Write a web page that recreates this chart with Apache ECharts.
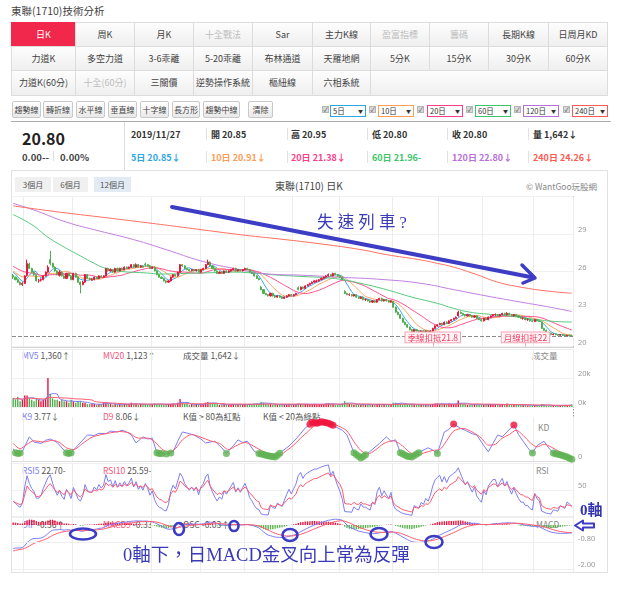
<!DOCTYPE html>
<html><head><meta charset="utf-8">
<script src="https://cdn.jsdelivr.net/npm/echarts@6/dist/echarts.min.js"></script>
<style>
body{margin:0;width:641px;height:599px;position:relative;overflow:hidden;background:#fff;font-family:"Noto Sans CJK TC","Noto Sans",sans-serif;color:#333;}
.a{position:absolute;white-space:nowrap;}
#chart{position:absolute;left:0;top:0;width:641px;height:599px;z-index:5;}
.cell{position:absolute;box-sizing:border-box;border:1px solid #dcdcdc;background:linear-gradient(#fdfdfd,#efefef);font-size:9px;color:#444;text-align:center;}
.cell.on{background:#f1284b;color:#fff;border-color:#f1284b;}
.cell.off{color:#bdbdbd;}
.btn{position:absolute;top:101px;height:17px;box-sizing:border-box;border:1px solid #c9c9c9;border-radius:2px;background:linear-gradient(#fff,#e9e9e9);font-size:8px;line-height:15px;text-align:center;color:#444;}
.cb{position:absolute;top:106px;width:7px;height:7px;box-sizing:border-box;background:#d8d8d8;border:1px solid #b5b5b5;font-size:6px;line-height:5px;color:#444;text-align:center;}
.sel{position:absolute;top:105px;width:36px;height:12px;box-sizing:border-box;border:1.5px solid;background:#fff;font-size:7.5px;line-height:9px;padding-left:2px;color:#333;}
.sel span{position:absolute;right:2px;top:0;font-size:5px;}
.inf{position:absolute;font-size:9px;font-weight:bold;white-space:nowrap;}
.sep{position:absolute;width:1px;background:#e2e2e2;}
.lbl{position:absolute;font-size:8.5px;line-height:10px;color:#555;white-space:nowrap;}
.hb{position:absolute;top:177px;height:15px;background:#f0f0f0;font-size:8px;line-height:15px;text-align:center;color:#555;}
</style></head>
<body>
<div class="a" style="left:11px;top:3px;font-size:10.5px;color:#444;">東聯(1710)技術分析</div>
<div id="menu"></div>
<div class="btn" style="left:12px;width:29px">趨勢線</div>
<div class="btn" style="left:43px;width:30px">轉折線</div>
<div class="btn" style="left:76px;width:29px">水平線</div>
<div class="btn" style="left:108px;width:29px">垂直線</div>
<div class="btn" style="left:140px;width:29px">十字線</div>
<div class="btn" style="left:172px;width:28px">長方形</div>
<div class="btn" style="left:203px;width:37px">趨勢中線</div>
<div class="btn" style="left:248px;width:25px">清除</div>
<div id="sels"></div>

<div class="a" style="left:11px;top:121px;width:600px;height:49px;border-top:1px solid #aaa;box-sizing:border-box;"></div>
<div class="a" style="left:124px;top:122px;width:1px;height:48px;background:#ddd;"></div>
<div class="a" style="left:22px;top:126px;font-size:16px;font-weight:bold;color:#222;">20.80</div>
<div class="a" style="left:22px;top:150px;font-size:9.5px;font-weight:bold;color:#444;">0.00--</div>
<div class="a" style="left:53px;top:151px;width:1px;height:10px;background:#ddd;"></div>
<div class="a" style="left:60px;top:150px;font-size:9.5px;font-weight:bold;color:#444;">0.00%</div>
<div id="info"></div>

<div class="a" style="left:11px;top:170px;width:597px;height:403px;border:1px solid #e2e2e2;box-sizing:border-box;"></div>
<div class="hb" style="left:15px;width:36px">3個月</div>
<div class="hb" style="left:53px;width:35px">6個月</div>
<div class="hb" style="left:94px;width:37px;background:#e2ebf4">12個月</div>
<div class="a" style="left:275px;top:178px;font-size:10px;color:#444;">東聯(1710) 日K</div>
<div class="a" style="left:526px;top:180px;font-size:8.5px;color:#888;">© WantGoo玩股網</div>

<div class="lbl" style="left:22px;top:350px"><span style="color:#7d7df5">MV5</span> 1,360↑</div>
<div class="lbl" style="left:103px;top:350px"><span style="color:#f5557a">MV20</span> 1,123↑</div>
<div class="lbl" style="left:183px;top:350px">成交量 1,642↓</div>
<div class="lbl" style="left:532px;top:350px;color:#888">成交量</div>
<div class="lbl" style="left:22px;top:411px"><span style="color:#7d7df5">K9</span> 3.77↓</div>
<div class="lbl" style="left:103px;top:411px"><span style="color:#f5557a">D9</span> 8.06↓</div>
<div class="lbl" style="left:183px;top:411px">K值 &gt; 80為紅點</div>
<div class="lbl" style="left:263px;top:411px">K值 &lt; 20為綠點</div>
<div class="lbl" style="left:538px;top:422px;color:#888">KD</div>
<div class="lbl" style="left:22px;top:465px"><span style="color:#7d7df5">RSI5</span> 22.70-</div>
<div class="lbl" style="left:103px;top:465px"><span style="color:#f5557a">RSI10</span> 25.59-</div>
<div class="lbl" style="left:536px;top:465px;color:#888">RSI</div>
<div class="lbl" style="left:22px;top:519px"><span style="color:#7d7df5">DIF</span> -0.36↑</div>
<div class="lbl" style="left:103px;top:519px"><span style="color:#f5557a">MACD9</span> -0.33</div>
<div class="lbl" style="left:183px;top:519px">OSC -0.03↑</div>
<div class="lbl" style="left:536px;top:519px;color:#888">MACD</div>

<div id="chart"></div>
<script>
// ---------- menu / header content ----------
const menuRow1 = ['日K','周K','月K','十全戰法','Sar','主力K線','盈富指標','籌碼','長期K線','日周月KD'];
const menuRow2 = ['力道K','多空力道','3-6乖離','5-20乖離','布林通道','天羅地網','5分K','15分K','30分K','60分K'];
const menuRow3 = ['力道K(60分)','十全(60分)','三關價','逆勢操作系統','樞紐線','六相系統'];
const menuOff = ['十全戰法','盈富指標','籌碼','十全(60分)'];
const maSelects = ['5日','10日','20日','60日','120日','240日'];
const maColors = ['#2ea7e0','#ff9c55','#ff3d8b','#3cc56b','#b86fd9','#ff5a52'];
const infoRow1 = ['2019/11/27','開 20.85','高 20.95','低 20.80','收 20.80','量 1,642↓'];
const infoRow2 = ['5日 20.85↓','10日 20.91↓','20日 21.38↓','60日 21.96-','120日 22.80↓','240日 24.26↓'];

(function(){
  const colX=[11,75,134,193,252,312,370,429,488,548,607];
  const rowY=[22,46,70,95];
  let h='';
  [menuRow1,menuRow2,menuRow3].forEach((row,r)=>{
    row.forEach((t,c)=>{
      const cls='cell'+(r===0&&c===0?' on':'')+(menuOff.includes(t)?' off':'');
      h+=`<div class="${cls}" style="left:${colX[c]}px;top:${rowY[r]}px;width:${colX[c+1]-colX[c]+1}px;height:${rowY[r+1]-rowY[r]+1}px;line-height:${rowY[r+1]-rowY[r]-1}px">${t}</div>`;
    });
  });
  h+=`<div class="cell" style="left:370px;top:70px;width:238px;height:26px"></div>`;
  document.getElementById('menu').innerHTML=h;
  const cbX=[322,369,417,466,514,563], slX=[330,378,427,475,523,572];
  let s='';
  maSelects.forEach((t,i)=>{
    s+=`<div class="cb" style="left:${cbX[i]}px">✓</div><div class="sel" style="left:${slX[i]}px;border-color:${maColors[i]}">${t}<span>▼</span></div>`;
  });
  document.getElementById('sels').innerHTML=s;
  const ix=[131,211,291,372,452,533], sx=[206,287,367,447,528];
  let f='';
  infoRow1.forEach((t,i)=>{f+=`<div class="inf" style="left:${ix[i]}px;top:128px;color:#333">${t}</div>`;});
  infoRow2.forEach((t,i)=>{f+=`<div class="inf" style="left:${ix[i]}px;top:151px;color:${maColors[i]}">${t}</div>`;});
  sx.forEach(x=>{f+=`<div class="sep" style="left:${x}px;top:128px;height:12px"></div><div class="sep" style="left:${x}px;top:151px;height:12px"></div>`;});
  document.getElementById('info').innerHTML=f;
})();

// ---------- data ----------
// closes before the visible window (only used to warm up the indicators)
const history = [32.2,32.0,31.9,31.6,31.4,30.9,30.4,29.8,29.2,28.4,27.8,27.4,27.2,26.9,26.6,27.0,27.3,26.9,26.4,26.0,26.2,26.6,26.4,26.1,25.9,25.6,26.0,26.3,26.0,25.8];
// daily [open, close, low, high]
const ohlc = [
[25.7,25.55,25.4,25.8],[25.55,25.35,25.3,25.6],[25.35,25.15,25.1,25.45],[25.15,24.95,24.9,25.2],[24.95,25.05,24.85,25.15],
[25.05,25.65,25.0,25.7],[25.7,26.65,25.6,26.95],[26.6,26.25,26.2,26.7],[26.25,25.95,25.9,26.3],[25.95,25.75,25.65,26.0],
[25.75,25.25,25.2,25.8],[25.25,25.25,25.1,25.4],[25.3,25.35,25.2,25.45],[25.35,25.65,25.3,25.7],[25.65,25.95,25.6,26.0],
[25.95,26.35,25.9,26.5],[26.95,26.65,26.5,27.65],[26.65,26.35,26.3,26.7],[26.35,26.05,26.0,26.4],[26.05,25.75,25.7,26.1],
[25.7,25.95,25.6,26.1],[25.95,25.65,25.6,26.0],[25.65,25.45,25.4,25.7],[25.45,25.85,25.4,25.9],[25.85,25.65,25.6,25.9],
[25.65,25.35,25.3,25.7],[25.35,25.85,25.3,25.9],[25.85,25.55,25.5,25.9],[25.55,25.15,25.1,25.6],[25.15,24.95,24.25,25.2],
[24.95,25.15,24.9,25.25],[25.15,25.75,25.1,25.8],[25.75,25.45,25.4,25.8],[25.45,25.35,25.3,25.5],[25.3,25.35,25.25,25.45],
[25.35,25.55,25.3,25.6],[25.55,25.45,25.4,25.6],[25.45,25.65,25.4,25.7],[25.65,25.55,25.5,25.7],[25.55,25.65,25.5,25.7],
[25.65,26.25,25.6,26.3],[26.25,26.05,26.0,26.3],[26.05,26.15,26.0,26.25],[26.15,25.95,25.9,26.2],[25.95,26.25,25.9,26.3],
[26.25,26.05,26.0,26.3],[26.05,26.25,26.0,26.3],[26.25,26.15,26.1,26.3],[26.15,26.35,26.1,26.4],[26.35,26.25,26.2,26.4],
[26.25,26.35,26.2,26.4],[26.35,26.55,26.3,26.6],[26.55,26.35,26.3,26.6],[26.35,26.55,26.3,26.65],[26.55,26.35,26.3,26.6],
[26.35,26.45,26.3,26.5],[26.45,26.35,26.3,26.5],[26.6,26.55,26.4,26.7],[26.55,26.45,26.4,26.6],[26.45,26.25,26.2,26.5],
[26.25,26.35,26.2,26.4],[26.35,26.05,26.0,26.4],[26.05,25.75,25.7,26.1],[25.75,25.55,25.5,25.8],[25.55,25.45,25.4,25.6],
[25.45,25.25,25.2,25.5],[25.25,25.15,25.05,25.3],[25.15,25.25,25.1,25.3],[25.25,25.55,25.2,25.6],[25.55,25.75,25.5,25.8],
[25.75,25.65,25.6,25.8],[25.65,25.95,25.6,26.0],[25.95,26.55,25.9,26.6],[26.55,26.45,26.4,26.6],[26.45,26.25,26.2,26.5],
[26.25,26.15,26.1,26.3],[26.15,26.05,26.0,26.2],[26.05,26.15,26.0,26.2],[26.15,26.05,26.0,26.2],[26.05,26.15,26.0,26.2],
[26.15,25.95,25.9,26.2],[25.95,26.15,25.9,26.2],[26.15,26.25,26.1,26.3],[26.25,26.55,26.2,26.6],[26.55,26.75,26.5,26.95],
[26.75,26.45,26.4,26.8],[26.45,26.25,26.2,26.5],[26.25,26.05,26.0,26.3],[26.05,25.85,25.8,26.1],[25.85,25.95,25.8,26.0],
[25.95,25.85,25.8,26.0],[25.85,26.05,25.8,26.1],[26.05,25.95,25.9,26.1],[25.95,26.05,25.9,26.1],[26.05,26.15,26.0,26.2],
[26.15,26.25,26.1,26.3],[26.25,26.05,26.0,26.3],[26.05,26.15,26.0,26.2],[26.15,26.05,26.0,26.2],[26.05,26.15,26.0,26.2],
[26.15,26.25,26.1,26.3],[26.25,26.15,26.1,26.3],[26.15,25.95,25.9,26.2],[25.95,25.85,25.8,26.0],[25.85,25.65,25.6,25.9],
[25.65,25.45,25.4,25.7],[25.45,25.35,25.3,25.5],[24.75,24.55,24.5,24.85],[24.55,24.25,24.2,24.6],[24.25,24.15,24.1,24.3],
[24.15,24.05,24.0,24.2],[24.05,24.25,24.0,24.3],[24.25,24.05,24.0,24.3],[24.05,23.95,23.9,24.1],[23.95,24.05,23.9,24.1],
[24.05,23.95,23.9,24.1],[23.95,23.85,23.8,24.0],[23.85,23.95,23.8,24.0],[23.95,24.05,23.9,24.1],[24.05,24.15,24.0,24.2],
[24.15,24.05,24.0,24.2],[24.05,24.15,24.0,24.2],[24.15,24.25,24.1,24.3],[24.7,24.55,24.5,24.8],[24.55,24.75,24.5,24.8],
[24.75,24.65,24.6,24.8],[24.65,24.85,24.6,24.9],[24.85,24.95,24.8,25.0],[24.95,25.05,24.9,25.1],[25.05,25.15,25.0,25.2],
[25.15,25.25,25.1,25.3],[25.25,25.25,25.15,25.35],[25.25,25.35,25.2,25.4],[25.35,25.45,25.3,25.5],[25.45,25.55,25.4,25.6],
[25.55,25.65,25.5,25.7],[25.65,25.75,25.6,25.85],[25.75,25.65,25.6,25.8],[25.65,25.85,25.6,25.9],[25.85,25.75,25.7,25.9],
[25.75,25.65,25.6,25.8],[25.65,25.55,25.5,25.7],[25.55,25.35,25.3,25.6],[24.4,24.25,24.2,24.5],[24.25,24.15,24.1,24.3],
[24.15,24.15,24.05,24.25],[24.15,24.05,24.0,24.2],[24.05,24.15,24.0,24.2],[24.15,23.95,23.9,24.2],[23.95,23.85,23.8,24.0],
[23.85,23.95,23.8,24.0],[23.95,23.75,23.7,24.0],[23.75,23.75,23.65,23.85],[23.75,23.65,23.6,23.8],[23.65,23.55,23.5,23.7],
[23.55,23.65,23.5,23.7],[23.65,23.55,23.5,23.7],[23.55,23.75,23.5,23.8],[23.75,23.85,23.7,23.9],[23.85,23.65,23.6,23.9],
[23.65,23.75,23.6,23.8],[23.75,23.65,23.6,23.8],[23.65,23.55,23.5,23.7],[23.55,23.65,23.5,23.7],[23.6,23.15,23.1,23.65],
[23.15,22.75,22.7,23.2],[22.75,22.55,22.5,22.8],[22.55,22.25,22.2,22.6],[22.25,21.95,21.9,22.3],[21.95,21.75,21.7,22.0],
[21.75,21.55,21.5,21.8],[21.55,21.35,21.3,21.6],[21.35,21.15,21.1,21.4],[21.15,21.35,21.1,21.4],[21.35,21.25,21.2,21.4],
[21.25,21.15,21.1,21.3],[21.15,21.25,21.1,21.3],[21.25,21.15,21.1,21.3],[21.15,21.25,21.1,21.3],[21.25,21.15,21.1,21.3],
[21.15,21.25,21.1,21.3],[21.25,21.45,21.2,21.5],[21.45,21.65,21.4,21.7],[21.65,21.75,21.6,21.8],[21.75,21.85,21.7,21.9],
[21.85,21.75,21.7,21.9],[21.75,21.95,21.7,22.0],[21.95,21.85,21.8,22.0],[21.85,22.05,21.8,22.1],[22.05,22.15,22.0,22.2],
[22.15,22.25,22.1,22.3],[22.25,22.35,22.2,22.4],[22.45,22.75,22.4,22.85],[22.75,22.65,22.6,22.8],[22.65,22.55,22.5,22.7],
[22.55,22.45,22.4,22.6],[22.45,22.55,22.4,22.6],[22.55,22.45,22.4,22.6],[22.45,22.35,22.3,22.5],[22.35,22.45,22.3,22.5],
[22.45,22.25,22.2,22.5],[22.25,22.15,22.1,22.3],[22.15,22.05,22.0,22.2],[22.05,22.25,22.0,22.3],[22.25,22.15,22.1,22.3],
[22.15,22.35,22.1,22.4],[22.35,22.45,22.3,22.5],[22.45,22.55,22.4,22.6],[22.55,22.55,22.45,22.65],[22.55,22.45,22.4,22.6],
[22.45,22.55,22.4,22.6],[22.55,22.65,22.5,22.7],[22.65,22.55,22.5,22.7],[22.55,22.65,22.5,22.75],[22.65,22.55,22.5,22.7],
[22.55,22.45,22.4,22.6],[22.45,22.55,22.4,22.6],[22.55,22.45,22.4,22.6],[22.45,22.35,22.3,22.5],[22.35,22.25,22.2,22.4],
[22.25,22.25,22.15,22.35],[22.25,22.15,22.1,22.3],[22.15,22.15,22.05,22.25],[22.15,22.05,22.0,22.2],[22.05,22.0,21.95,22.1],
[22.0,22.15,21.95,22.2],[22.15,22.05,22.0,22.2],[22.05,22.0,21.95,22.1],[21.95,21.45,21.4,22.0],[21.45,21.3,21.25,21.5],
[21.3,21.1,21.05,21.35],[21.1,21.05,21.0,21.15],[21.05,20.95,20.9,21.1],[20.95,21.0,20.9,21.05],[21.0,20.95,20.9,21.05],
[20.95,20.9,20.85,21.0],[20.9,20.95,20.85,21.0],[20.95,20.9,20.85,21.0],[20.9,20.85,20.8,20.95],[20.85,20.9,20.8,20.95],
[20.9,20.85,20.8,20.95],[20.85,20.8,20.8,20.95]
];
// daily volume, thousand lots
const volume = [
6,5,7,4,5,8,8,6,5,4, 6,5,4,5,6,20,9,6,5,5, 4,5,4,4,3,5,4,3,4,4, 3,3,2,2,2,2,1.5,2,2,3,
3,2,2,1.5,2,2,2,1.5,2,2, 2,3,2,2,1.5,2,2,2,1.5,2, 2,2.5,2,2,2,1.5,2,2,2,2.5, 2,3,5.5,3,2,2,1.5,2,1.5,2,
1.5,2,2,3,3.5,3,2.5,2,2,1.5, 1.5,2,1.5,1.5,2,2,1.5,1.5,2,1.5, 2,1.5,2,2,2.5,2.5,2,3.5,3,2.5, 2,2,1.5,2,1.5,1.5,2,1.5,1.5,2,
1.5,1.5,2,2.5,2,1.5,2,2,2,2, 2,1.5,2,2,2,2.5,2.5,2,2,1.5, 1.5,2,2.5,4,3,2,2,1.5,2,2, 1.5,2,1.5,1.5,2,1.5,1.5,2,2,1.5,
1.5,1.5,1.5,2,3,3,2.5,2.5,2,2, 2,2,2,1.5,1.5,1.5,1.5,1.5,1.5,1.5, 1.5,2,2.5,2.5,2,2,2,2,2.5,2, 2,2,4.5,2.5,2,2,1.5,1.5,1.5,2,
1.5,1.5,1.5,1.5,1.5,2,2,1.5,1.5,1.5, 1.5,2,1.5,2.5,1.5,1.5,1.5,1.5,1.5,1.5, 1.5,1.5,1.0,1.0,1.0,1.0,1.0,1.0,2.0,1.5,
0.9,0.9,0.9,0.9,0.9,0.9,0.9,1.2,1.5,1.2, 1.2,1.642
];
// long moving averages: [day index, value]
const ma60Pts = [[0,30.55],[8,29.75],[15,28.75],[22,27.95],[28,27.35],[35,26.65],[40,26.25],[47,26.0],[56,25.9],[65,25.8],[75,25.85],[85,25.9],[95,25.95],[105,25.85],[115,25.7],[125,25.6],[135,25.5],[142,25.35],[150,25.05],[161,24.55],[172,23.95],[183,23.45],[190,23.05],[197,22.75],[204,22.6],[211,22.5],[218,22.35],[226,22.15],[234,22.0],[241,21.96]];
const ma120Pts = [[0,31.45],[10,30.85],[23,29.95],[37,29.25],[52,28.55],[66,27.75],[81,26.85],[95,26.25],[110,25.8],[125,25.7],[140,25.55],[160,25.35],[176,25.05],[190,24.55],[204,24.05],[219,23.55],[230,23.2],[241,22.8]];
const ma240Pts = [[0,31.25],[20,30.75],[38,30.35],[60,29.85],[81,29.35],[100,28.9],[115,28.6],[133,28.2],[150,27.75],[161,27.35],[175,26.95],[183,26.65],[190,26.35],[200,25.75],[209,25.15],[219,24.75],[230,24.45],[241,24.26]];
// KD(9): [day index, value]
const kPts = [[0,28],[1,19],[2,17],[3,18],[4,22],[7,55],[9,43],[12,40],[14,47],[16,50],[19,42],[22,24],[23,19],[24,17],[25,19],[28,36],[32,59],[35,58],[37,63],[40,62],[42,68],[45,66],[47,70],[49,66],[51,59],[53,41],[56,55],[58,50],[60,52],[62,19],[63,17],[64,17],[66,16],[68,18],[69,21],[71,45],[73,66],[76,62],[78,59],[81,50],[83,41],[87,45],[90,30],[92,17],[95,35],[97,48],[99,42],[101,45],[104,22],[106,17],[110,12],[113,9],[116,22],[119,34],[122,50],[126,75],[129,88],[131,86],[133,89],[136,86],[138,81],[140,75],[142,70],[144,59],[147,19],[150,7],[152,14],[154,22],[158,40],[161,55],[163,45],[165,48],[167,19],[170,11],[172,9],[174,16],[176,22],[179,30],[181,25],[183,17],[186,66],[188,72],[190,84],[193,74],[195,70],[198,62],[200,59],[203,35],[205,21],[207,40],[209,59],[211,55],[213,66],[216,82],[218,60],[220,45],[222,30],[224,18],[226,35],[229,45],[231,30],[233,18],[236,14],[239,9],[241,3.77]];
const dPts = [[0,40],[3,28],[6,38],[9,46],[13,43],[17,47],[20,42],[23,30],[26,26],[30,40],[34,54],[38,60],[42,64],[46,67],[50,64],[54,52],[58,52],[61,44],[64,28],[67,20],[70,28],[73,48],[77,60],[81,54],[85,46],[89,40],[93,26],[96,34],[100,42],[103,36],[107,24],[111,15],[115,14],[118,24],[121,36],[124,52],[127,66],[130,80],[134,86],[138,84],[141,78],[144,68],[147,44],[150,24],[153,16],[156,24],[160,40],[164,46],[168,34],[171,20],[174,14],[177,18],[181,24],[184,26],[187,46],[190,68],[194,74],[198,66],[202,52],[205,36],[208,38],[211,52],[214,60],[217,70],[220,58],[223,42],[226,32],[229,38],[232,32],[236,20],[241,8.06]];
const kHighDots = [[128,83.7],[129,88],[130,87],[131,86],[132,87.5],[133,89],[134,88],[135,87],[136,86],[137,83.5],[138,81],[190,84],[216,82]];
const kLowDots = [[1,19],[2,17],[3,18],[23,19],[24,17],[25,19],[62,19],[63,17],[64,17],[66,16],[68,18],[92,17],[106,17],[107,15.8],[108,14.5],[109,13.3],[110,12],[111,11],[112,10],[113,9],[114,13.3],[115,17.7],[147,19],[148,15],[149,11],[150,7],[151,10.5],[152,14],[167,19],[168,16.3],[169,13.7],[170,11],[171,10],[172,9],[173,12.5],[174,16],[175,19],[183,17],[224,18],[233,18],[234,16.7],[235,15.3],[236,14],[237,12.3],[238,10.7],[239,9],[240,6.4],[241,3.77]];
const monthStarts = [5,26,60,81,100,121,141,164,184,203,225];
const priceTicks = {min:20, max:32, step:3};
const lastClose = 20.8;
const deductions = [{day:181, text:'季線扣抵21.8'}, {day:221, text:'月線扣抵22'}];
const days = ohlc.map((d,i)=>String(i));

// ---------- derived indicators ----------
const H0 = history.length;
const cAll = history.concat(ohlc.map(d=>d[1]));
function ma(n){return ohlc.map((_,i)=>{const t=H0+i;let s=0;for(let k=t-n+1;k<=t;k++)s+=cAll[k];return +(s/n).toFixed(3);});}
function vma(n){return volume.map((_,i)=>{const a=Math.max(0,i-n+1);let s=0;for(let k=a;k<=i;k++)s+=volume[k];return +(s/(i-a+1)).toFixed(3);});}
function rsi(n){let up=0,dn=0;const out=[];for(let t=1;t<cAll.length;t++){const ch=cAll[t]-cAll[t-1];up=(up*(n-1)+Math.max(ch,0))/n;dn=(dn*(n-1)+Math.max(-ch,0))/n;if(t>=H0)out.push(+(up+dn>0?100*up/(up+dn):50).toFixed(2));}return out;}
const difArr=[],deaArr=[],oscArr=[];
(function(){let e12=cAll[0],e26=cAll[0],dea=0;for(let t=0;t<cAll.length;t++){e12=e12*11/13+cAll[t]*2/13;e26=e26*25/27+cAll[t]*2/27;const dif=e12-e26;dea=dea*0.8+dif*0.2;if(t>=H0){difArr.push(+dif.toFixed(3));deaArr.push(+dea.toFixed(3));oscArr.push(+(dif-dea).toFixed(3));}}})();

const UP='#e8153c', DOWN='#4fae4f', BLUE='#7d7df5', RED='#ff5a6e';
const grids=[{top:196.5,height:150},{top:349,height:58},{top:417,height:44},{top:463,height:54},{top:516.2,height:57.2}];
const lbl={color:'#999',fontSize:7.5,margin:5,verticalAlign:'bottom',fontFamily:'Noto Sans'};
function yA(i,o){return Object.assign({type:'value',gridIndex:i,position:'right',scale:false,axisLine:{show:false},axisTick:{show:false},splitLine:{show:true,lineStyle:{color:'#f0f0f0'}}},o);}
function line(name,data,color,xi,extra){return Object.assign({name,type:'line',data,xAxisIndex:xi,yAxisIndex:xi,showSymbol:false,symbol:'none',lineStyle:{width:1,color},itemStyle:{color},silent:true,z:3},extra||{});}

const ann='#3c3cc4';
const handFont='"Liberation Serif","Noto Sans CJK TC"';
const option={
  animation:false,
  textStyle:{fontFamily:'"Noto Sans CJK TC","Noto Sans",sans-serif'},
  grid:grids.map(g=>({left:12,width:561,top:g.top,height:g.height})),
  xAxis:grids.map((g,i)=>({type:'category',gridIndex:i,data:days,boundaryGap:true,axisLine:{show:false},axisTick:{show:false},axisLabel:{show:false},splitLine:{show:true,interval:(idx)=>monthStarts.includes(idx),lineStyle:{color:'#ececec'}}})),
  yAxis:[
    yA(0,{min:priceTicks.min,max:priceTicks.max,interval:priceTicks.step,axisLabel:Object.assign({showMaxLabel:false},lbl)}),
    yA(1,{min:0,max:40,interval:20,axisLabel:Object.assign({showMaxLabel:false,formatter:v=>v+'k'},lbl)}),
    yA(2,{min:0,max:100,interval:100,splitLine:{show:false},axisLabel:Object.assign({showMaxLabel:false},lbl)}),
    yA(3,{min:0,max:100,interval:50,axisLabel:Object.assign({showMaxLabel:false,showMinLabel:false},lbl)}),
    yA(4,{min:-2.2,max:0.4,interval:0.2,splitLine:{show:false},axisLabel:Object.assign({formatter:v=>Math.abs(v+0.8)<1e-3?'-0.80':(Math.abs(v+2)<1e-3?'-2.00':'')},lbl)})
  ],
  series:[
    {type:'candlestick',data:ohlc,xAxisIndex:0,yAxisIndex:0,barWidth:1.6,silent:true,z:4,
     itemStyle:{color:UP,color0:DOWN,borderColor:UP,borderColor0:DOWN,borderWidth:1},
     markLine:{symbol:['none','none'],silent:true,animation:false,data:[
       {yAxis:lastClose,lineStyle:{type:'dashed',color:'#8a8a8a',width:1},label:{show:false}},
       ...deductions.map(d=>[{coord:[d.day,20],lineStyle:{type:'solid',color:'#f5a3b3',width:1},
          label:{show:true,position:'end',distance:0,formatter:d.text,color:'#ef3d62',fontSize:8.5,backgroundColor:'#fff4f6',borderColor:'#f5a3b3',borderWidth:1,padding:[1,2,0,2]}},{coord:[d.day,20.35]}])
     ]}},
    line('MA5',ma(5),'#38a6e6',0),
    line('MA10',ma(10),'#ffa363',0),
    line('MA20',ma(20),'#ff4d8d',0),
    line('MA60',ma60Pts,'#52c97a',0,{smooth:true}),
    line('MA120',ma120Pts,'#c27fe0',0,{smooth:true}),
    line('MA240',ma240Pts,'#ff6e60',0,{smooth:true}),
    {type:'bar',xAxisIndex:1,yAxisIndex:1,barWidth:1.4,silent:true,
     data:volume.map((v,i)=>({value:v,itemStyle:{color:ohlc[i][1]>=ohlc[i][0]?UP:DOWN}}))},
    line('MV5',vma(5),BLUE,1),
    line('MV20',vma(20),RED,1),
    line('K',kPts,BLUE,2),
    line('D',dPts,RED,2,{smooth:0.3}),
    {type:'scatter',xAxisIndex:2,yAxisIndex:2,symbolSize:7,silent:true,z:5,itemStyle:{color:'#f0143c'},data:kHighDots},
    {type:'scatter',xAxisIndex:2,yAxisIndex:2,symbolSize:7,silent:true,z:5,itemStyle:{color:'#5fb352'},data:kLowDots},
    line('RSI5',rsi(5),BLUE,3),
    line('RSI10',rsi(10),RED,3),
    {type:'bar',xAxisIndex:4,yAxisIndex:4,barWidth:1.4,silent:true,
     data:oscArr.map(v=>({value:v,itemStyle:{color:v>=0?'#f0163f':'#5fb352'}}))},
    line('DIF',difArr,BLUE,4,{markLine:{symbol:['none','none'],silent:true,label:{show:false},lineStyle:{color:'#eeeeee',type:'solid',width:1},data:[{yAxis:-0.8},{yAxis:-2.0}]}}),
    line('MACD9',deaArr,RED,4)
  ],
  graphic:[
    {type:'line',shape:{x1:12,y1:196.5,x2:573,y2:196.5},style:{stroke:'#e6e6e6',lineWidth:1},silent:true},
    {type:'line',shape:{x1:12,y1:347.5,x2:573,y2:347.5},style:{stroke:'#d4d4d4',lineWidth:1},silent:true},
    {type:'line',shape:{x1:12,y1:407.5,x2:573,y2:407.5},style:{stroke:'#d4d4d4',lineWidth:1},silent:true},
    {type:'line',shape:{x1:12,y1:461.5,x2:573,y2:461.5},style:{stroke:'#dddddd',lineWidth:1},silent:true},
    {type:'line',shape:{x1:12,y1:517,x2:573,y2:517},style:{stroke:'#dddddd',lineWidth:1},silent:true},
    {type:'line',shape:{x1:573.5,y1:196,x2:573.5,y2:572},style:{stroke:'#9a9a9a',lineWidth:1,lineDash:[1.5,1.5]},silent:true},
    // annotations
    {type:'polyline',z:100,shape:{points:[[172,207],[533,277.5]]},style:{stroke:ann,lineWidth:4,fill:null,lineCap:'round'},silent:true},
    {type:'polyline',z:100,shape:{points:[[522,265],[535,278],[523,283]]},style:{stroke:ann,lineWidth:3.5,fill:null,lineCap:'round',lineJoin:'round'},silent:true},
    {type:'text',z:100,style:{text:'失 速 列 車 ?',x:317,y:224,fontSize:16.5,fontFamily:handFont,fill:'#3a3ab8',verticalAlign:'middle'},silent:true},
    {type:'text',z:100,style:{text:'0軸下，日MACD金叉向上常為反彈',x:123,y:556,fontSize:18.5,fontFamily:handFont,fill:'#3a3ab8',verticalAlign:'middle'},silent:true},
    {type:'text',z:100,style:{text:'0軸',x:580,y:511,fontSize:15,fontFamily:handFont,fontWeight:'bold',fill:'#3434b0',verticalAlign:'middle'},silent:true},
    {type:'polygon',z:100,shape:{points:[[575,525.5],[583,520.5],[583,523.5],[594,523.5],[594,527.5],[583,527.5],[583,530.5]]},style:{stroke:ann,lineWidth:2,fill:'#fff',lineJoin:'round'},silent:true},
    {type:'ellipse',z:100,shape:{cx:83,cy:534,rx:13,ry:5.5},style:{stroke:ann,lineWidth:2.6,fill:null},silent:true},
    {type:'ellipse',z:100,shape:{cx:179,cy:529,rx:5,ry:6},style:{stroke:ann,lineWidth:2.6,fill:null},silent:true},
    {type:'ellipse',z:100,shape:{cx:234,cy:526,rx:4.5,ry:5},style:{stroke:ann,lineWidth:2.6,fill:null},silent:true},
    {type:'ellipse',z:100,shape:{cx:290,cy:535,rx:7.5,ry:6},style:{stroke:ann,lineWidth:2.6,fill:null},silent:true},
    {type:'ellipse',z:100,shape:{cx:379,cy:534,rx:8.5,ry:6},style:{stroke:ann,lineWidth:2.6,fill:null},silent:true},
    {type:'ellipse',z:100,shape:{cx:434,cy:542,rx:8.5,ry:6},style:{stroke:ann,lineWidth:2.6,fill:null},silent:true}
  ]
};
const chart=echarts.init(document.getElementById('chart'),null,{renderer:'canvas'});
chart.setOption(option);
</script>
</body></html>
